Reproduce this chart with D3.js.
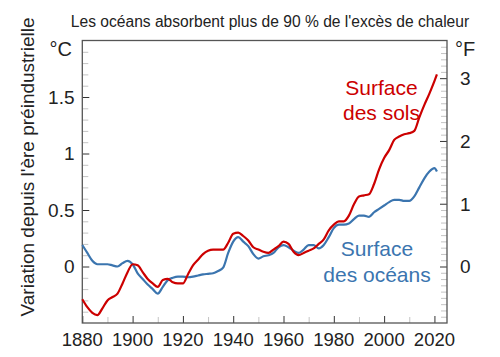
<!DOCTYPE html>
<html><head><meta charset="utf-8">
<script src="https://cdn.jsdelivr.net/npm/d3@7/dist/d3.min.js"></script>
<style>body{margin:0;background:#fff}text{font-family:"Liberation Sans",Arial,sans-serif;fill:#222}</style>
</head><body><svg id="c" width="500" height="357"></svg>
<script>
const years = [1880,1882,1884,1886,1888,1890,1892,1894,1896,1898,1900,1902,1904,1906,1908,1910,1912,1914,1916,1918,1920,1922,1924,1926,1928,1930,1932,1934,1936,1938,1940,1942,1944,1946,1948,1950,1952,1954,1956,1958,1960,1962,1964,1966,1968,1970,1972,1974,1976,1978,1980,1982,1984,1986,1988,1990,1992,1994,1996,1998,2000,2002,2004,2006,2008,2010,2012,2014,2016,2018,2020,2021];
const land = [-0.29,-0.36,-0.41,-0.43,-0.37,-0.30,-0.27,-0.24,-0.15,-0.05,0.02,0.01,-0.05,-0.11,-0.15,-0.18,-0.12,-0.11,-0.14,-0.15,-0.15,-0.07,0.01,0.06,0.11,0.14,0.15,0.15,0.15,0.21,0.29,0.30,0.27,0.23,0.17,0.15,0.13,0.12,0.15,0.18,0.22,0.20,0.13,0.10,0.12,0.14,0.16,0.20,0.24,0.32,0.37,0.40,0.40,0.45,0.55,0.62,0.63,0.64,0.73,0.86,0.96,1.03,1.12,1.15,1.17,1.18,1.20,1.32,1.43,1.53,1.64,1.70];
const ocean = [0.19,0.12,0.05,0.02,0.02,0.02,0.01,0.00,0.03,0.05,0.02,-0.06,-0.11,-0.16,-0.20,-0.24,-0.18,-0.12,-0.10,-0.09,-0.09,-0.095,-0.09,-0.08,-0.07,-0.065,-0.06,-0.04,-0.01,0.12,0.22,0.26,0.22,0.18,0.11,0.07,0.09,0.10,0.12,0.17,0.19,0.17,0.14,0.12,0.15,0.19,0.19,0.16,0.19,0.26,0.34,0.37,0.37,0.38,0.42,0.45,0.45,0.44,0.48,0.51,0.54,0.57,0.59,0.59,0.58,0.58,0.62,0.70,0.78,0.84,0.87,0.84];
const xMajor = [1880,1900,1920,1940,1960,1980,2000,2020];
const cMajor = [0,0.5,1,1.5];
const fMajor = [0,1,2,3];
const title = "Les océans absorbent plus de 90 % de l'excès de chaleur";
const yTitle = "Variation depuis l'ère préindustrielle";
const landLabel = ["Surface","des sols"];
const oceanLabel = ["Surface","des océans"];

const svg = d3.select("#c");
const L=82.3,R=447,T=40.5,B=323;
const x = d3.scaleLinear().domain([1880,2025]).range([L,R]);
const y = d3.scaleLinear().domain([-0.5,2]).range([B,T]);
const yF = d3.scaleLinear().domain([-0.9,3.6]).range([B,T]);
const RED="#cc0000", BLUE="#3b75af";

function minorAxis(g, axis){ g.call(axis); g.select(".domain").remove(); g.selectAll("text").remove(); g.selectAll("line").attr("stroke","#c4c4c4"); }
function majorAxis(g, axis){ g.call(axis); g.select(".domain").remove(); g.selectAll("text").remove(); g.selectAll("line").attr("stroke","#333"); }

// minor ticks
svg.append("g").attr("transform",`translate(0,${B})`).call(g=>minorAxis(g,d3.axisBottom(x).tickValues(d3.range(1890,2025,20)).tickSize(-6)));
svg.append("g").attr("transform",`translate(${L},0)`).call(g=>minorAxis(g,d3.axisLeft(y).tickValues(d3.range(-4,20).map(d=>d/10).filter(d=>d%0.5!==0)).tickSize(-6)));
svg.append("g").attr("transform",`translate(${R},0)`).call(g=>minorAxis(g,d3.axisRight(yF).tickValues(d3.range(-8,36).map(d=>d/10).filter(d=>Math.abs(d-Math.round(d))>1e-6)).tickSize(-6)));
// major ticks
svg.append("g").attr("transform",`translate(0,${B})`).call(g=>majorAxis(g,d3.axisBottom(x).tickValues(xMajor).tickSize(-7)));
svg.append("g").attr("transform",`translate(${L},0)`).call(g=>majorAxis(g,d3.axisLeft(y).tickValues(cMajor).tickSize(-7)));
svg.append("g").attr("transform",`translate(${R},0)`).call(g=>majorAxis(g,d3.axisRight(yF).tickValues(fMajor).tickSize(-7)));

// frame
svg.append("rect").attr("x",L).attr("y",T).attr("width",R-L).attr("height",B-T).attr("fill","none").attr("stroke","#555").attr("stroke-width",1.3);

// lines
const line = vals => d3.line().x((d,i)=>x(years[i])).y(d=>y(d)).curve(d3.curveMonotoneX)(vals);
svg.append("path").attr("d",line(ocean)).attr("fill","none").attr("stroke",BLUE).attr("stroke-width",2.2).attr("stroke-linejoin","round");
svg.append("path").attr("d",line(land)).attr("fill","none").attr("stroke",RED).attr("stroke-width",2.2).attr("stroke-linejoin","round");

// tick labels
svg.selectAll(".xl").data(xMajor).join("text").attr("x",d=>x(d)).attr("y",346).attr("text-anchor","middle").attr("font-size",18.5).text(d=>d);
svg.selectAll(".yl").data(cMajor).join("text").attr("x",74.5).attr("y",d=>y(d)).attr("dy","0.36em").attr("text-anchor","end").attr("font-size",19).text(d=>d);
svg.selectAll(".fl").data(fMajor).join("text").attr("x",460).attr("y",d=>yF(d)).attr("dy","0.36em").attr("text-anchor","start").attr("font-size",19).text(d=>d);
svg.append("text").attr("x",72).attr("y",56).attr("text-anchor","end").attr("font-size",20).text("°C");
svg.append("text").attr("x",455).attr("y",56).attr("text-anchor","start").attr("font-size",20).text("°F");

// titles
svg.append("text").attr("x",270).attr("y",27).attr("text-anchor","middle").attr("font-size",15.6).text(title);
svg.append("text").attr("transform","translate(34,167) rotate(-90)").attr("text-anchor","middle").attr("font-size",19).text(yTitle);

// series labels
svg.selectAll(".ll").data(landLabel).join("text").attr("x",381.5).attr("y",(d,i)=>95+i*25).attr("text-anchor","middle").attr("font-size",21).style("fill",RED).text(d=>d);
svg.selectAll(".ol").data(oceanLabel).join("text").attr("x",377).attr("y",(d,i)=>256+i*26).attr("text-anchor","middle").attr("font-size",21).style("fill",BLUE).text(d=>d);
</script></body></html>
